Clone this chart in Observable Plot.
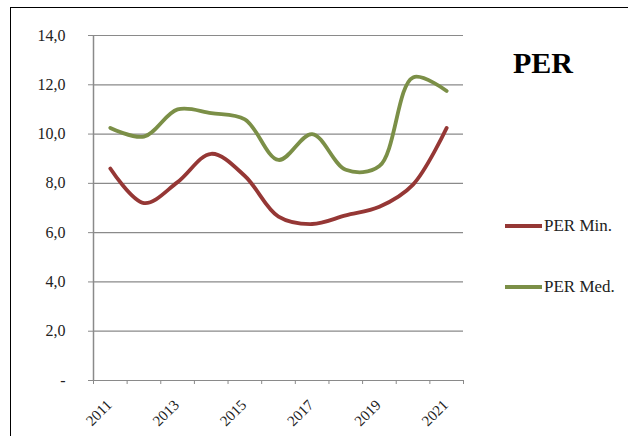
<!DOCTYPE html>
<html>
<head>
<meta charset="utf-8">
<script src="https://cdn.jsdelivr.net/npm/d3@7"></script>
<script src="https://cdn.jsdelivr.net/npm/@observablehq/plot@0.6"></script>
<style>
  html, body { margin: 0; padding: 0; background: #fff; }
  #wrap { position: relative; width: 628px; height: 436px; overflow: hidden; font-family: "Liberation Serif", "DejaVu Serif", serif; }
  #border { position: absolute; left: 10px; top: 7px; width: 700px; height: 500px; border-left: 1.5px solid #000; border-top: 1.5px solid #000; }
  #title { position: absolute; left: 513px; top: 46px; font-size: 30px; font-weight: bold; color: #000; font-family: "Liberation Serif", serif; }
  .leg { position: absolute; left: 505px; font-size: 17px; color: #222; display: flex; align-items: center; font-family: "Liberation Serif", serif; }
  .leg span.sw { display: inline-block; width: 37px; height: 3.5px; margin-right: 2px; }
  svg { position: absolute; left: 0; top: 0; }
  svg text, svg g { font-family: "Liberation Serif", serif !important; }
</style>
</head>
<body>
<div id="wrap">
  <div id="border"></div>
  <div id="chart"></div>
  <div id="title">PER</div>
  <div class="leg" style="top:216px"><span class="sw" style="background:#953735"></span>PER Min.</div>
  <div class="leg" style="top:277px"><span class="sw" style="background:#7b8f47"></span>PER Med.</div>
</div>
<script>
const years = [2011, 2012, 2013, 2014, 2015, 2016, 2017, 2018, 2019, 2020, 2021];
const perMin = [8.6, 7.2, 8.05, 9.2, 8.3, 6.65, 6.35, 6.7, 7.05, 7.95, 10.25];
const perMed = [10.25, 9.9, 11.0, 10.85, 10.6, 8.95, 10.0, 8.55, 8.7, 12.3, 11.75];
const yTicks = [0, 2, 4, 6, 8, 10, 12, 14];
const xLabelYears = [2011, 2013, 2015, 2017, 2019, 2021];
const seriesNames = ["PER Min.", "PER Med."];
const colors = ["#953735", "#7b8f47"];

const data = [];
years.forEach((yr, i) => {
  data.push({year: yr, value: perMin[i], series: seriesNames[0]});
  data.push({year: yr, value: perMed[i], series: seriesNames[1]});
});
const boundaries = d3.range(years[0] - 0.5, years[years.length - 1] + 1, 1);

const chart = Plot.plot({
  width: 628,
  height: 436,
  marginLeft: 93,
  marginRight: 165,
  marginTop: 35,
  marginBottom: 56,
  style: {fontFamily: "Liberation Serif, serif", fontSize: "15px", color: "#222", background: "transparent"},
  x: {domain: [years[0] - 0.5, years[years.length - 1] + 0.5]},
  y: {domain: [0, 14]},
  color: {domain: seriesNames, range: colors},
  marks: [
    Plot.ruleY(yTicks, {stroke: "#8a8a8a", strokeWidth: 1.2}),
    Plot.axisY({ticks: yTicks, tickSize: 5, tickPadding: 23, stroke: "#8a8a8a", fontSize: 16,
      tickFormat: d => d === 0 ? "-" : d.toFixed(1).replace(".", ","), label: null}),
    Plot.ruleX([years[0] - 0.5], {stroke: "#8a8a8a", strokeWidth: 1.5, y1: 0, y2: 14}),
    Plot.axisX({ticks: boundaries, tickSize: 4, stroke: "#8a8a8a", tickFormat: () => "", label: null}),
    Plot.axisX({ticks: xLabelYears, tickSize: 0, tickPadding: 17, tickRotate: -45, fontSize: 15, dy: 5, dx: -1, tickFormat: d => String(d), label: null}),
    Plot.line(data, {x: "year", y: "value", stroke: "series", z: "series", strokeWidth: 3.8, curve: "catmull-rom"})
  ]
});
document.getElementById("chart").appendChild(chart);
</script>
</body>
</html>
